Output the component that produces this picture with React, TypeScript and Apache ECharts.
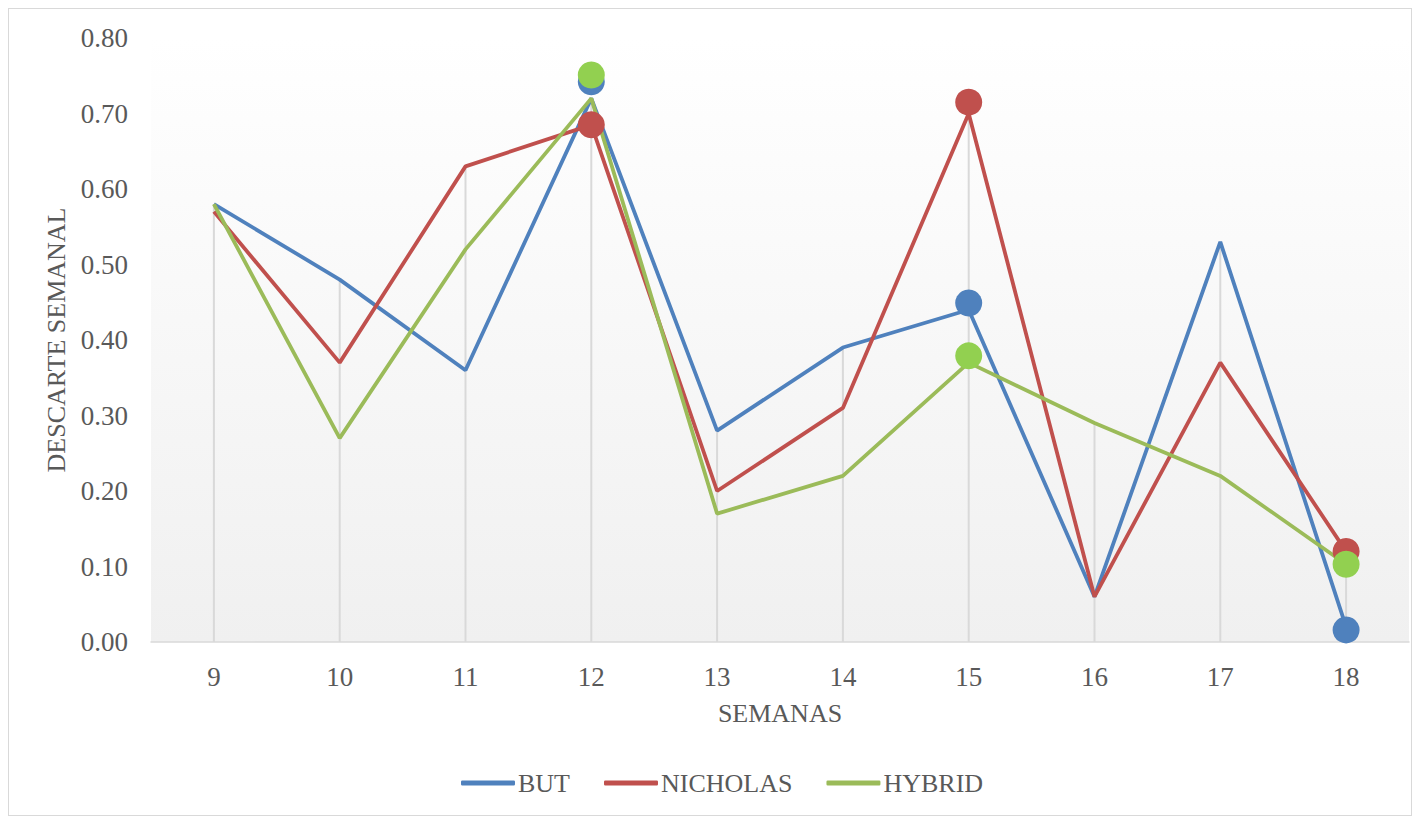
import React, { useEffect, useRef } from "react";
import * as echarts from "echarts";

// Semanas (eje X)
const weeks = ["9", "10", "11", "12", "13", "14", "15", "16", "17", "18"];

// Descarte semanal por método
const butValues = [0.58, 0.48, 0.36, 0.72, 0.28, 0.39, 0.44, 0.06, 0.53, 0.02];
const nicholasValues = [0.57, 0.37, 0.63, 0.685, 0.2, 0.31, 0.70, 0.06, 0.37, 0.12];
const hybridValues = [0.58, 0.27, 0.52, 0.72, 0.17, 0.22, 0.37, 0.29, 0.22, 0.103];

// Puntos destacados (semanas 12, 15 y 18)
const butMarks: [string, number][] = [["12", 0.742], ["15", 0.449], ["18", 0.016]];
const nicholasMarks: [string, number][] = [["12", 0.685], ["15", 0.715], ["18", 0.12]];
const hybridMarks: [string, number][] = [["12", 0.751], ["15", 0.379], ["18", 0.103]];

const yTicks = { min: 0, max: 0.8, interval: 0.1 };

const BLUE = "#4f81bd";
const RED = "#c0504d";
const GREEN = "#9bbb59";
const GREEN_MARK = "#92d050";
const TEXT = "#595959";
const FONT = "'Liberation Serif', 'Times New Roman', serif";

export default function App() {
  const ref = useRef<HTMLDivElement>(null);

  useEffect(() => {
    if (!ref.current) return;
    const chart = echarts.init(ref.current, undefined, { renderer: "svg" });

    // Líneas de caída: desde el máximo de cada semana hasta el eje
    const dropValues = weeks.map((_, i) =>
      Math.max(butValues[i], nicholasValues[i], hybridValues[i])
    );

    const lineSeries = (name: string, data: number[], color: string) => ({
      name,
      type: "line",
      data,
      symbol: "none",
      lineStyle: { color, width: 3.8 },
      itemStyle: { color },
      z: 3,
    });

    const markSeries = (name: string, data: [string, number][], color: string) => ({
      name,
      type: "scatter",
      data,
      symbol: "circle",
      symbolSize: 27,
      itemStyle: { color, opacity: 1 },
      z: 4,
    });

    chart.setOption({
      animation: false,
      backgroundColor: "#ffffff",
      textStyle: { fontFamily: FONT },
      grid: {
        left: 142,
        top: 29,
        right: 2,
        bottom: 173,
        show: true,
        borderWidth: 0,
        backgroundColor: new echarts.graphic.LinearGradient(0, 0, 0, 1, [
          { offset: 0, color: "#ffffff" },
          { offset: 1, color: "#f0f0f0" },
        ]),
      },
      legend: {
        data: ["BUT", "NICHOLAS", "HYBRID"],
        left: 447,
        top: 756,
        icon: "roundRect",
        itemWidth: 54,
        itemHeight: 5,
        itemGap: 34,
        textStyle: { color: TEXT, fontSize: 26, fontFamily: FONT, padding: [0, 0, 0, -2] },
      },
      xAxis: {
        type: "category",
        data: weeks,
        boundaryGap: true,
        name: "SEMANAS",
        nameLocation: "middle",
        nameGap: 58,
        nameTextStyle: { color: TEXT, fontSize: 26, fontFamily: FONT },
        axisLine: { show: true, lineStyle: { color: "#d9d9d9", width: 1.5 } },
        axisTick: { show: false },
        axisLabel: { color: TEXT, fontSize: 27, fontFamily: FONT, margin: 21 },
        splitLine: { show: false },
      },
      yAxis: {
        type: "value",
        min: yTicks.min,
        max: yTicks.max,
        interval: yTicks.interval,
        name: "DESCARTE SEMANAL",
        nameLocation: "middle",
        nameGap: 78,
        nameTextStyle: { color: TEXT, fontSize: 26, fontFamily: FONT },
        axisLine: { show: false },
        axisTick: { show: false },
        axisLabel: {
          color: TEXT,
          fontSize: 27,
          fontFamily: FONT,
          margin: 23,
          formatter: (v: number) => v.toFixed(2),
        },
        splitLine: { show: false },
      },
      series: [
        {
          name: "drop",
          type: "bar",
          data: dropValues,
          barWidth: 2,
          itemStyle: { color: "#d9d9d9" },
          silent: true,
          z: 1,
        },
        lineSeries("BUT", butValues, BLUE),
        lineSeries("NICHOLAS", nicholasValues, RED),
        lineSeries("HYBRID", hybridValues, GREEN),
        markSeries("BUT max", butMarks, BLUE),
        markSeries("NICHOLAS max", nicholasMarks, RED),
        markSeries("HYBRID max", hybridMarks, GREEN_MARK),
      ],
    });

    return () => chart.dispose();
  }, []);

  return (
    <div
      ref={ref}
      style={{
        width: 1404,
        height: 808,
        boxSizing: "border-box",
        border: "1px solid #d9d9d9",
        background: "#ffffff",
      }}
    />
  );
}
